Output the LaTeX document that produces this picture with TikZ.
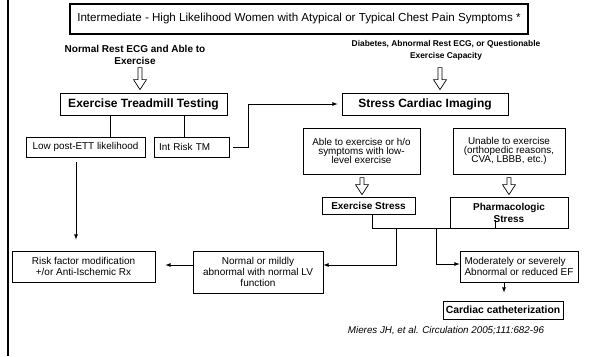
\documentclass[tikz,border=0pt]{standalone}
\usepackage{fontspec}
\setmainfont{Liberation Sans}
\usetikzlibrary{calc}
\usetikzlibrary{arrows}
\usetikzlibrary{positioning}

\begin{document}
\begin{tikzpicture}[x=1pt, y=-1pt, >=latex, line width=0.8pt,
    box/.style={draw, inner sep=1pt, align=center, font=\fontsize{9.9}{9.4}\selectfont},
    lowbox/.style={box, font=\fontsize{10}{11}\selectfont},
    bbox/.style={box, font=\bfseries\fontsize{10}{12}\selectfont},
    head/.style={align=center, inner sep=0pt, font=\bfseries\fontsize{10}{11.5}\selectfont}]
    \tikzset{pics/hollow/.style={code={
      \draw[fill=white, line width=0.7pt] (-2,-10-#1) -- (-2,-10) -- (-6.5,-10) -- (0,0) -- (6.5,-10) -- (2,-10) -- (2,-10-#1) -- cycle;}}}
    \useasboundingbox (0,0) rectangle (591,356);
    % left rule
    \draw[line width=2.5pt] (8,0) -- (8,356);

    \node[box, line width=1.6pt, minimum width=458, minimum height=30, font=\fontsize{11.6}{12}\selectfont] (top) at (299,19)
      {Intermediate - High Likelihood Women with Atypical or Typical Chest Pain Symptoms *};
    \node[head] (lhead) at (135,55) {Normal Rest ECG and Able to\\Exercise};
    \node[head, font=\bfseries\fontsize{8.4}{12}\selectfont] (rhead) at (446,50) {Diabetes, Abnormal Rest ECG, or Questionable\\Exercise Capacity};

    \node[box, minimum width=167, minimum height=22, font=\bfseries\fontsize{12}{12}\selectfont] (ett) at (143.5,104) {Exercise Treadmill Testing};
    \node[box, minimum width=166, minimum height=22, font=\bfseries\fontsize{12}{12}\selectfont] (sci) at (425,104) {Stress Cardiac Imaging};
    \pic at ([xshift=-3.5,yshift=3]ett.north) {hollow=12};
    \pic at ([xshift=15,yshift=3]sci.north) {hollow=12};

    \node[box, minimum width=119, minimum height=20] (low) at (85.5,147) {Low post-ETT likelihood};
    \node[box, minimum width=75, minimum height=20, align=left, text width=65] (int) at (191.5,147) {Int Risk TM};

    \node[box, minimum width=117, minimum height=46] (able) at (361.5,151) {Able to exercise or h/o\\symptoms with low-\\level exercise};
    \node[box, minimum width=112, minimum height=46] (unable) at (509,151) {Unable to exercise\\(orthopedic reasons,\\CVA, LBBB, etc.)};

    \node[bbox, minimum width=93, minimum height=17] (exs) at (368.5,205.5) {Exercise Stress};
    \node[bbox, minimum width=118, minimum height=31] (pharm) at (509,212.5) {Pharmacologic\\Stress};
    \pic at ([xshift=-6.5,yshift=2]exs.north) {hollow=7};
    \pic at ([yshift=2]pharm.north) {hollow=7};

    \node[lowbox, minimum width=143, minimum height=31] (risk) at (83.5,266.5) {Risk factor modification\\+/or Anti-Ischemic Rx};
    \node[lowbox, minimum width=130, minimum height=42] (norm) at (258,272) {Normal or mildly\\abnormal with normal LV\\function};
    \node[lowbox, minimum width=118, minimum height=31, align=left] (mod) at (519,266.5) {Moderately or severely\\Abnormal or reduced EF};
    \node[bbox, minimum width=120, minimum height=18, font=\bfseries\fontsize{10.4}{12}\selectfont] (cath) at (503,310) {Cardiac catheterization};
    \node[font=\itshape\fontsize{9.8}{10}\selectfont] (cite) at (446,331) {Mieres JH, et al. Circulation 2005;111:682-96};

    % connectors
    \draw ([xshift=24.5]low.north) |- (ett.south);
    \draw ([xshift=-7.5]int.north) |- (ett.south);
    \draw[->, shorten >=4pt] ([xshift=4]int.east) -- ++(15,0) |- (sci.west);
    \draw[->] ([xshift=-9.5,yshift=-5]low.south) -- ([xshift=-7.5,yshift=11]risk.north);
    \draw ([xshift=3.5]exs.south) |- ([xshift=-14]pharm.south) -- ++(0,-8);
    \coordinate (busL) at ([xshift=-113]pharm.south);
    \coordinate (busR) at ([xshift=-73]pharm.south);
    \draw[->] (busL) |- ([yshift=7]norm.east);
    \draw[->] (busR) |- ([yshift=2.5]mod.west);
    \coordinate (rxin) at ([xshift=10,yshift=1.5]risk.east);
    \draw[->] ([yshift=7]norm.west) -- (rxin);
    \draw[->] ([xshift=-15]mod.south) -- ([xshift=1,yshift=8]cath.north);
\end{tikzpicture}
\end{document}
